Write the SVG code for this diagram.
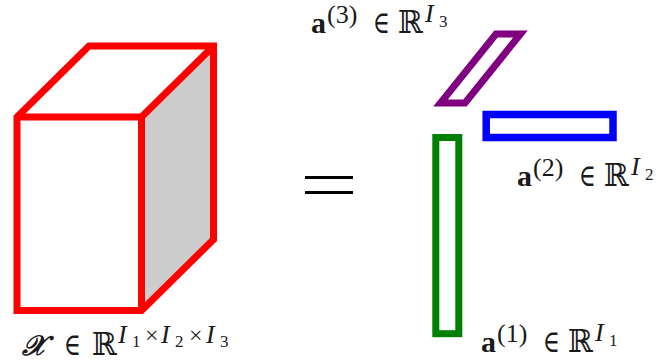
<svg xmlns="http://www.w3.org/2000/svg" width="663" height="364" viewBox="0 0 663 364">
<style>
.t{font-family:"Liberation Serif","DejaVu Serif",serif;fill:#1a1a1a}
.m{font-size:30px}
.b{font-weight:bold}
.s{font-size:26px}
.ss{font-size:17px}
.x{font-size:24px}
.i{font-style:italic}
.sym{font-family:"DejaVu Serif","Liberation Serif",serif;font-size:28px;fill:#1a1a1a}
.el{font-size:31px}
.rr{font-size:32px}
.cube{stroke:#ff0000;stroke-width:7;stroke-linejoin:miter;fill:none}
</style>
<rect width="663" height="364" fill="#ffffff"/>
<g id="tensor">
<path d="M141.5,117 L213.5,46 L213.5,239.5 L141.5,310.5 Z" fill="#cccccc"/>
<path class="cube" d="M17,117 L89,46 L213.5,46 L213.5,239.5 L141.5,310.5 L17,310.5 Z"/>
<path class="cube" d="M17,117 L141.5,117 L213.5,46 M141.5,117 L141.5,310.5"/>
<g id="label-x">
<text class="sym i" x="22" y="355" textLength="24" lengthAdjust="spacingAndGlyphs" font-weight="bold">𝒳</text>
<text class="sym el" x="64" y="355" textLength="17" lengthAdjust="spacingAndGlyphs">∈</text>
<text class="sym rr" x="92" y="355" textLength="25" lengthAdjust="spacingAndGlyphs">ℝ</text>
<text class="t s i" x="118" y="343">I</text>
<text class="t ss" x="132" y="347">1</text>
<text class="t x" x="145" y="343">×</text>
<text class="t s i" x="161" y="343">I</text>
<text class="t ss" x="175" y="347">2</text>
<text class="t x" x="189" y="343">×</text>
<text class="t s i" x="206" y="343">I</text>
<text class="t ss" x="220" y="347">3</text>
</g>
</g>
<g id="equals" stroke="#000000" stroke-width="3">
<line x1="305" y1="177.5" x2="353" y2="177.5"/>
<line x1="305" y1="192.5" x2="353" y2="192.5"/>
</g>
<g id="a3">
<path d="M496,34 L520.5,34 L465,103 L440.5,103 Z" fill="none" stroke="#800080" stroke-width="7" stroke-linejoin="miter"/>
<g id="label-a3">
<text class="t m b" x="311" y="33">a</text>
<text class="t s" x="327" y="23">(3)</text>
<text class="sym el" x="373" y="33" textLength="17" lengthAdjust="spacingAndGlyphs">∈</text>
<text class="sym rr" x="398" y="33" textLength="25" lengthAdjust="spacingAndGlyphs">ℝ</text>
<text class="t s i" x="425" y="22">I</text>
<text class="t ss" x="439" y="27">3</text>
</g>
</g>
<g id="a2">
<rect x="486.2" y="114.5" width="126.8" height="23" fill="none" stroke="#0000ff" stroke-width="7.5"/>
<g id="label-a2">
<text class="t m b" x="517" y="186">a</text>
<text class="t s" x="533" y="176">(2)</text>
<text class="sym el" x="579" y="186" textLength="17" lengthAdjust="spacingAndGlyphs">∈</text>
<text class="sym rr" x="604" y="186" textLength="25" lengthAdjust="spacingAndGlyphs">ℝ</text>
<text class="t s i" x="631" y="175">I</text>
<text class="t ss" x="645" y="180">2</text>
</g>
</g>
<g id="a1">
<rect x="435.8" y="137.5" width="23" height="196.2" fill="none" stroke="#008000" stroke-width="7"/>
<g id="label-a1">
<text class="t m b" x="481" y="352">a</text>
<text class="t s" x="497" y="342">(1)</text>
<text class="sym el" x="543" y="352" textLength="17" lengthAdjust="spacingAndGlyphs">∈</text>
<text class="sym rr" x="568" y="352" textLength="25" lengthAdjust="spacingAndGlyphs">ℝ</text>
<text class="t s i" x="595" y="341">I</text>
<text class="t ss" x="609" y="346">1</text>
</g>
</g>
</svg>
